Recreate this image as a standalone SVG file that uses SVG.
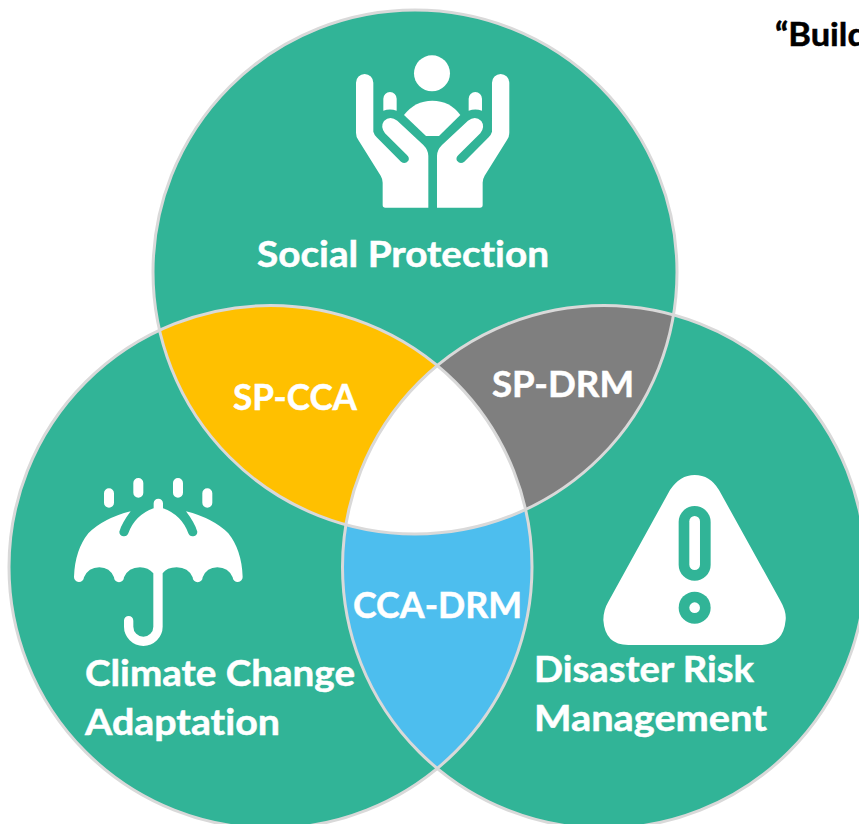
<svg xmlns="http://www.w3.org/2000/svg" xmlns:xlink="http://www.w3.org/1999/xlink" width="859" height="824" viewBox="0 0 859 824">
<style>
.c{fill:#31B497}
.o{fill:none;stroke:#D9D9D9;stroke-width:3}
.w{fill:#fff}
.g{fill:#31B497}
text{font-family:"Lato","Liberation Sans",sans-serif;font-weight:700;fill:#fff;font-size:36px;font-variant-ligatures:none;stroke:#fff;stroke-width:.5}
</style>
<defs>
<circle id="T" cx="415" cy="272" r="262"/>
<circle id="L" cx="270.5" cy="567" r="261.5"/>
<circle id="R" cx="604" cy="567" r="261.5"/>
<clipPath id="cT"><use xlink:href="#T" href="#T"/></clipPath>
<clipPath id="cL"><use xlink:href="#L" href="#L"/></clipPath>
<clipPath id="cR"><use xlink:href="#R" href="#R"/></clipPath>
<g id="hand">
<path class="w" d="M48,158A26,26 0 0 1 100,158L100,305Q103,315 110,322L183,395Q195,405 205,392Q210,383 200,374L135,310Q120,290 132,273Q150,255 172,272L250,345Q265,360 265,378L265,533L136,533Q128,533 128,525L128,458Q128,447 122,437L55,330Q48,320 48,308Z"/>
<path class="w" d="M130,242L130,206A20,20 0 0 1 170,206L170,242Q150,235 130,242Z"/>
</g>
</defs>
<rect width="859" height="824" fill="#fff"/>
<g id="social-protection">
<use xlink:href="#T" href="#T" class="c"/>
<g transform="translate(340,30) scale(.3333)">
<use xlink:href="#hand" href="#hand"/>
<use xlink:href="#hand" href="#hand" transform="translate(556,0) scale(-1,1)"/>
<circle class="w" cx="276" cy="130" r="54"/>
<path class="w" d="M192,255Q225,212 277,212Q330,212 361,255L297,318L258,318Z"/>
</g>
<text x="257" y="267" textLength="292" lengthAdjust="spacingAndGlyphs">Social Protection</text>
</g>
<g id="climate-change-adaptation">
<use xlink:href="#L" href="#L" class="c"/>
</g>
<g id="disaster-risk-management">
<use xlink:href="#R" href="#R" class="c"/>
</g>
<g id="sp-cca"><g clip-path="url(#cT)"><use xlink:href="#L" href="#L" fill="#FFC000"/></g></g>
<g id="sp-drm"><g clip-path="url(#cT)"><use xlink:href="#R" href="#R" fill="#7F7F7F"/></g></g>
<g id="cca-drm"><g clip-path="url(#cL)"><use xlink:href="#R" href="#R" fill="#4DBEEE"/></g></g>
<g id="centre"><g clip-path="url(#cT)"><g clip-path="url(#cL)"><use xlink:href="#R" href="#R" fill="#fff"/></g></g></g>
<g id="connectors">
<use xlink:href="#T" href="#T" class="o"/>
<use xlink:href="#L" href="#L" class="o"/>
<use xlink:href="#R" href="#R" class="o"/>
</g>
<g id="umbrella" transform="translate(60,470) scale(.3333)">
<g stroke="#fff" stroke-width="30" stroke-linecap="round"><path d="M147,70V98M235,39V68M354,39V68M442,70V98"/></g>
<path class="w" d="M212,124Q130,145 85,190Q45,240 42,320A15,15 0 0 0 72,322Q85,292 118,292Q150,292 162,322A15,15 0 0 0 192,322Q205,292 240,292Q265,292 280,310L280,470A30,30 0 0 1 220,470L220,452A14,14 0 0 0 192,452L192,470A58,58 0 0 0 308,470L308,310Q320,292 350,292Q385,292 398,322A15,15 0 0 0 428,322Q440,292 472,292Q505,292 518,322A15,15 0 0 0 548,320Q545,240 505,190Q460,145 378,124Q405,160 412,185A14,14 0 0 1 385,190Q365,135 309,115L309,100A14,14 0 0 0 281,100L281,115Q225,135 205,190A14,14 0 0 1 178,185Q185,160 212,124Z"/>
</g>
<g id="warning" transform="translate(590,460) scale(.3333)">
<path class="w" d="M240,90Q270,45 314,45Q360,45 387,90L570,420Q590,455 587,480Q580,555 510,555L115,555Q45,555 40,480Q40,450 55,425Z"/>
<rect class="g" x="266" y="138" width="96" height="224" rx="48"/>
<rect class="w" x="298" y="168" width="32" height="162" rx="16"/>
<circle class="g" cx="314" cy="443" r="48"/>
<circle class="w" cx="314" cy="443" r="16"/>
</g>
<text x="233" y="410" textLength="124" lengthAdjust="spacingAndGlyphs">SP-CCA</text>
<text x="492" y="397" textLength="142" lengthAdjust="spacingAndGlyphs">SP-DRM</text>
<text x="353" y="618" textLength="169" lengthAdjust="spacingAndGlyphs">CCA-DRM</text>
<text x="85" y="686" textLength="270" lengthAdjust="spacingAndGlyphs">Climate Change</text>
<text x="85" y="735" textLength="195" lengthAdjust="spacingAndGlyphs">Adaptation</text>
<text x="534" y="682" textLength="220" lengthAdjust="spacingAndGlyphs">Disaster Risk</text>
<text x="534" y="731" textLength="233" lengthAdjust="spacingAndGlyphs">Management</text>
<text x="775" y="46" textLength="92" lengthAdjust="spacingAndGlyphs" style="fill:#000;stroke:#000;font-size:32px">“Build</text>
</svg>
